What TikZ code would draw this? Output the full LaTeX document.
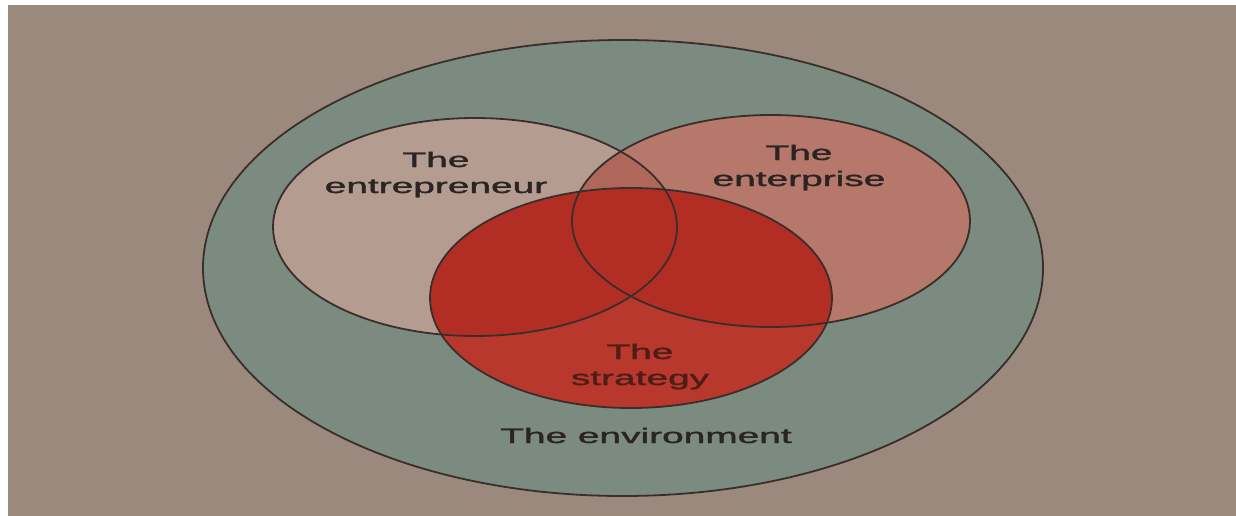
\documentclass[tikz,border=0pt]{standalone}
\usepackage{fontspec}
\setmainfont{Liberation Sans}
\newfontfamily\labelfont{Liberation Sans}[FakeBold=1.2]
\begin{document}
\definecolor{paper}{HTML}{9C897D}
\definecolor{ring}{HTML}{7C8B7F}
\definecolor{persona}{HTML}{B59C91}
\definecolor{firm}{HTML}{B5786A}
\definecolor{overlapa}{HTML}{AE675A}
\definecolor{plan}{HTML}{B8382D}
\definecolor{planmix}{HTML}{B22E25}
\definecolor{edge}{HTML}{3A2E2A}
\definecolor{ink}{HTML}{2A2422}
\definecolor{redink}{HTML}{4E1D16}
\begin{tikzpicture}[x=1pt,y=-1pt,
  outline/.style={draw=edge,line width=1.8pt},
  label/.style={font=\labelfont\fontsize{21}{26}\selectfont,xscale=1.85,align=center,anchor=base,inner sep=0pt,text=ink}]
  % page and photo background
  \fill[white] (0,0) rectangle (1236,516);
  \fill[paper] (8,5) rectangle (1236,516);
  % environment ring
  \fill[ring] (623,268) ellipse [x radius=420,y radius=228];
  % entrepreneur and enterprise
  \fill[persona] (475,227) ellipse [x radius=202,y radius=109];
  \fill[firm] (771,221) ellipse [x radius=199,y radius=106];
  \begin{scope}
    \clip (475,227) ellipse [x radius=202,y radius=109];
    \fill[overlapa] (771,221) ellipse [x radius=199,y radius=106];
  \end{scope}
  % strategy
  \fill[plan] (631,298) ellipse [x radius=201,y radius=110];
  \begin{scope}
    \clip (631,298) ellipse [x radius=201,y radius=110];
    \fill[planmix] (475,227) ellipse [x radius=202,y radius=109];
    \fill[planmix] (771,221) ellipse [x radius=199,y radius=106];
  \end{scope}
  % outlines
  \draw[outline] (623,268) ellipse [x radius=420,y radius=228];
  \draw[outline] (475,227) ellipse [x radius=202,y radius=109];
  \draw[outline] (771,221) ellipse [x radius=199,y radius=106];
  \draw[outline] (631,298) ellipse [x radius=201,y radius=110];
  % labels (anchored at the baseline of the last line)
  \node[label] (entrepreneur) at (436,193) {The\\entrepreneur};
  \node[label] (enterprise) at (799,186) {The\\enterprise};
  \node[label,text=redink] (strategy) at (640,385) {The\\strategy};
  \node[label] (environment) at (646,443) {The environment};
\end{tikzpicture}
\end{document}
